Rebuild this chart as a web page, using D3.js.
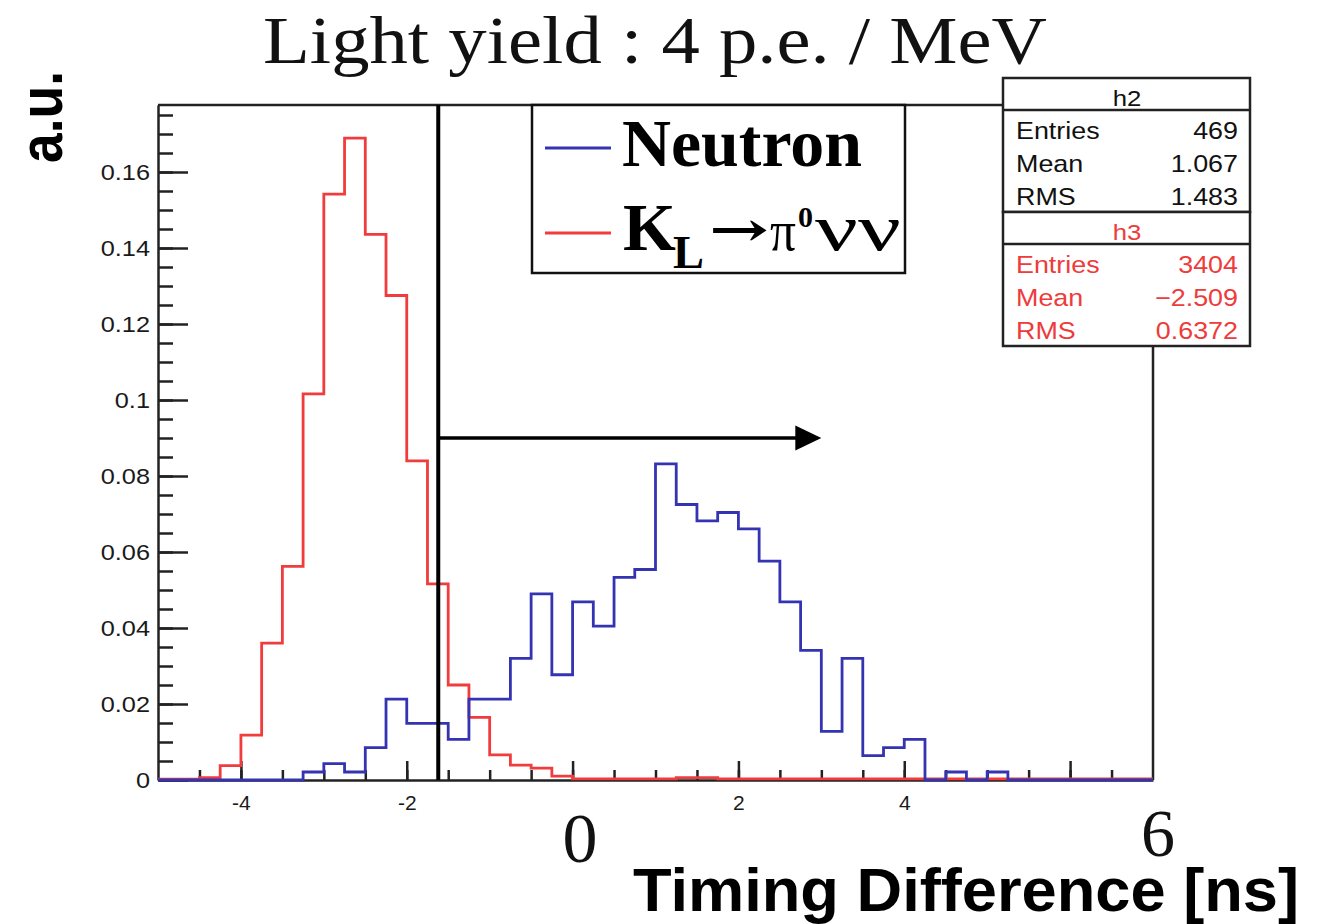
<!DOCTYPE html>
<html>
<head>
<meta charset="utf-8">
<script src="https://cdn.jsdelivr.net/npm/d3@7"></script>
<style>
  body { margin: 0; background: #fff; }
  svg { display: block; }
</style>
</head>
<body>
<div id="chart"></div>
<script>
// histogram binning: 48 bins of 0.25 ns starting at -5 ns
const binStart = -5;
const binWidth = 0.25;

// h2 : Neutron (normalised)
const neutron = [
  0, 0, 0, 0, 0, 0, 0, 0.0021,
  0.0043, 0.0021, 0.0085, 0.0213, 0.0149, 0.0149, 0.0107, 0.0213,
  0.0213, 0.0320, 0.0490, 0.0277, 0.0469, 0.0405, 0.0533, 0.0554,
  0.0832, 0.0725, 0.0682, 0.0704, 0.0661, 0.0576, 0.0469, 0.0341,
  0.0128, 0.0320, 0.0064, 0.0085, 0.0107, 0, 0.0021, 0,
  0.0021, 0, 0, 0, 0, 0, 0, 0
];

// h3 : KL -> pi0 nu nu (normalised)
const klpi0nunu = [
  0.0002, 0.0002, 0.0006, 0.0038, 0.0118, 0.0360, 0.0562, 0.1016,
  0.1542, 0.1689, 0.1436, 0.1275, 0.0840, 0.0516, 0.0250, 0.0165,
  0.0066, 0.0039, 0.0031, 0.0010, 0.0003, 0.0003, 0.0003, 0.0003,
  0.0003, 0.0006, 0.0006, 0.0003, 0.0003, 0.0003, 0.0003, 0.0003,
  0.0003, 0.0003, 0.0003, 0.0003, 0.0003, 0.0003, 0.0003, 0.0003,
  0.0003, 0.0003, 0.0003, 0.0003, 0.0003, 0.0003, 0.0003, 0.0003
];

const xMajorTicks = [-4, -2, 0, 2, 4, 6];
const xTickLabels = ["-4", "-2", "", "2", "4", ""];
const yMajorTicks = [0, 0.02, 0.04, 0.06, 0.08, 0.1, 0.12, 0.14, 0.16];
const yTickLabels = ["0", "0.02", "0.04", "0.06", "0.08", "0.1", "0.12", "0.14", "0.16"];

const statsH2 = [["Entries", "469"], ["Mean", "1.067"], ["RMS", "1.483"]];
const statsH3 = [["Entries", "3404"], ["Mean", "\u22122.509"], ["RMS", "0.6372"]];

// timing cut and arrow
const cutX = -1.62;
const arrowEnd = 3;
const arrowY = 0.09;

const width = 1328;
const height = 924;
const plot = {left: 158, right: 1153, top: 105, bottom: 780};
const blue = "#3434b2";
const red = "#f03c3c";
const sans = "'Liberation Sans', Arial, sans-serif";
const serif = "'Liberation Serif', 'Times New Roman', serif";

const svg = d3.select("#chart")
  .append("svg")
  .attr("width", width)
  .attr("height", height)
  .attr("viewBox", `0 0 ${width} ${height}`);

const xScale = d3.scaleLinear()
  .domain([-5, 7])
  .range([plot.left, plot.right]);

const yScale = d3.scaleLinear()
  .domain([0, (plot.bottom - plot.top) / 3800])
  .range([plot.bottom, plot.top]);

// title
svg.append("text")
  .text("Light yield : 4 p.e. / MeV")
  .attr("x", 263).attr("y", 63)
  .attr("textLength", 784)
  .attr("lengthAdjust", "spacingAndGlyphs")
  .style("font-family", serif)
  .style("font-size", "68px")
  .attr("fill", "#111");

//frame: top line and right side (cut by legend / stats boxes)
svg.append("line")
  .attr("x1", plot.left).attr("x2", 1003)
  .attr("y1", plot.top).attr("y2", plot.top)
  .attr("stroke", "#222").attr("stroke-width", 2.5);
svg.append("line")
  .attr("x1", plot.right).attr("x2", plot.right)
  .attr("y1", 346).attr("y2", plot.bottom)
  .attr("stroke", "#222").attr("stroke-width", 2.5);

// minor ticks first
svg.append("g")
  .attr("class", "x-minor")
  .attr("transform", `translate(0, ${plot.bottom})`)
  .call(d3.axisBottom(xScale)
    .tickValues(d3.range(-4.5, 7, 0.5))
    .tickSizeInner(-10).tickSizeOuter(0)
    .tickFormat(""))
  .call(g => g.select(".domain").remove());

svg.append("g")
  .attr("class", "y-minor")
  .attr("transform", `translate(${plot.left}, 0)`)
  .call(d3.axisLeft(yScale)
    .tickValues(d3.range(0.005, 0.1776, 0.005))
    .tickSizeInner(-15).tickSizeOuter(0)
    .tickFormat(""))
  .call(g => g.select(".domain").remove());

const xAxis = svg.append("g")
  .attr("class", "axis-x")
  .attr("transform", `translate(0, ${plot.bottom})`)
  .call(d3.axisBottom(xScale)
    .tickValues(xMajorTicks)
    .tickFormat((d, i) => xTickLabels[i])
    .tickSizeInner(-19).tickSizeOuter(0)
    .tickPadding(15));

const yAxis = svg.append("g")
  .attr("class", "axis-y")
  .attr("transform", `translate(${plot.left}, 0)`)
  .call(d3.axisLeft(yScale)
    .tickValues(yMajorTicks)
    .tickFormat((d, i) => yTickLabels[i])
    .tickSizeInner(-30).tickSizeOuter(0)
    .tickPadding(7));

svg.selectAll(".x-minor line, .y-minor line, .axis-x line, .axis-y line, .axis-x .domain, .axis-y .domain")
  .attr("stroke", "#222")
  .attr("stroke-width", 2.5);

xAxis.selectAll("text")
  .style("font-family", sans)
  .style("font-size", "21px")
  .attr("fill", "#1a1a1a");

yAxis.selectAll("text")
  .style("font-family", sans)
  .style("font-size", "22px")
  .attr("fill", "#1a1a1a")
  .attr("transform", "scale(1.15, 1)");

// histograms as step outlines
const stepPoints = vals => vals.map((v, i) => [binStart + i * binWidth, v])
  .concat([[binStart + vals.length * binWidth, vals[vals.length - 1]]]);

const stepLine = d3.line()
  .x(d => xScale(d[0]))
  .y(d => yScale(d[1]))
  .curve(d3.curveStepAfter);

svg.append("path")
  .attr("d", stepLine(stepPoints(klpi0nunu)))
  .attr("fill", "none")
  .attr("stroke", red)
  .attr("stroke-width", 2.8);

svg.append("path")
  .attr("d", stepLine(stepPoints(neutron)))
  .attr("fill", "none")
  .attr("stroke", blue)
  .attr("stroke-width", 2.8);

// cut line + arrow
svg.append("line")
  .attr("x1", xScale(cutX)).attr("x2", xScale(cutX))
  .attr("y1", plot.top).attr("y2", plot.bottom)
  .attr("stroke", "#000").attr("stroke-width", 4);

svg.append("line")
  .attr("x1", xScale(cutX)).attr("x2", xScale(arrowEnd) - 20)
  .attr("y1", yScale(arrowY)).attr("y2", yScale(arrowY))
  .attr("stroke", "#000").attr("stroke-width", 3.5);

svg.append("path")
  .attr("d", d3.line()([
    [xScale(arrowEnd), yScale(arrowY)],
    [xScale(arrowEnd) - 26, yScale(arrowY) - 12.5],
    [xScale(arrowEnd) - 26, yScale(arrowY) + 12.5]
  ]) + "Z")
  .attr("fill", "#000");

// legend
const legend = svg.append("g").attr("class", "legend");
legend.append("rect")
  .attr("x", 532).attr("y", plot.top)
  .attr("width", 373).attr("height", 168)
  .attr("fill", "#fff")
  .attr("stroke", "#111").attr("stroke-width", 2.5);

legend.append("line")
  .attr("x1", 545).attr("x2", 611).attr("y1", 148).attr("y2", 148)
  .attr("stroke", blue).attr("stroke-width", 2.8);
legend.append("line")
  .attr("x1", 545).attr("x2", 611).attr("y1", 233).attr("y2", 233)
  .attr("stroke", red).attr("stroke-width", 2.8);

legend.append("text")
  .text("Neutron")
  .attr("x", 622).attr("y", 166)
  .attr("textLength", 240).attr("lengthAdjust", "spacingAndGlyphs")
  .style("font-family", serif).style("font-weight", "bold").style("font-size", "68px");

legend.append("text").text("K")
  .attr("x", 623).attr("y", 250)
  .style("font-family", serif).style("font-weight", "bold").style("font-size", "68px");
legend.append("text").text("L")
  .attr("x", 673).attr("y", 268)
  .attr("textLength", 31).attr("lengthAdjust", "spacingAndGlyphs")
  .style("font-family", serif).style("font-weight", "bold").style("font-size", "46px");
legend.append("text").text("\u2192")
  .attr("x", 709).attr("y", 246)
  .attr("textLength", 60).attr("lengthAdjust", "spacingAndGlyphs")
  .style("font-family", "'DejaVu Serif', serif").style("font-weight", "bold").style("font-size", "48px");
legend.append("text").text("\u03c0")
  .attr("x", 770).attr("y", 250)
  .attr("textLength", 26).attr("lengthAdjust", "spacingAndGlyphs")
  .style("font-family", serif).style("font-size", "56px");
legend.append("text").text("0")
  .attr("x", 798).attr("y", 227)
  .attr("textLength", 15).attr("lengthAdjust", "spacingAndGlyphs")
  .style("font-family", serif).style("font-weight", "bold").style("font-size", "30px");
legend.append("text").text("\u03bd\u03bd")
  .attr("x", 815).attr("y", 250)
  .attr("textLength", 86).attr("lengthAdjust", "spacingAndGlyphs")
  .style("font-family", serif).style("font-size", "66px");

// stats boxes
const drawStats = (title, rows, top, color) => {
  const g = svg.append("g").attr("class", "stats");
  g.append("rect")
    .attr("x", 1003).attr("y", top)
    .attr("width", 247).attr("height", 134)
    .attr("fill", "#fff")
    .attr("stroke", "#222").attr("stroke-width", 2.5);
  g.append("line")
    .attr("x1", 1003).attr("x2", 1250)
    .attr("y1", top + 32).attr("y2", top + 32)
    .attr("stroke", "#222").attr("stroke-width", 2.5);
  g.append("text").text(title)
    .attr("x", 1127 / 1.12).attr("y", top + 28)
    .attr("text-anchor", "middle")
    .attr("transform", "scale(1.12, 1)")
    .attr("fill", color)
    .style("font-family", sans).style("font-size", "23px");
  rows.forEach(([k, v], i) => {
    g.append("text").text(k)
      .attr("x", 1016 / 1.12).attr("y", top + 61 + i * 33)
      .attr("transform", "scale(1.12, 1)")
      .attr("fill", color)
      .style("font-family", sans).style("font-size", "24px");
    g.append("text").text(v)
      .attr("x", 1238 / 1.12).attr("y", top + 61 + i * 33)
      .attr("text-anchor", "end")
      .attr("transform", "scale(1.12, 1)")
      .attr("fill", color)
      .style("font-family", sans).style("font-size", "24px");
  });
};
drawStats("h2", statsH2, 78, "#111");
drawStats("h3", statsH3, 212, "#ee3b3b");

// overlaid labels
svg.append("text").text("a.u.")
  .attr("transform", "translate(62, 163) rotate(-90)")
  .attr("textLength", 92).attr("lengthAdjust", "spacingAndGlyphs")
  .style("font-family", sans)
  .style("font-weight", "bold").style("font-size", "62px");

svg.append("text").text("0")
  .attr("x", 580).attr("y", 862)
  .attr("text-anchor", "middle")
  .style("font-family", serif).style("font-size", "70px").attr("fill", "#111");
svg.append("text").text("6")
  .attr("x", 1158).attr("y", 856)
  .attr("text-anchor", "middle")
  .style("font-family", serif).style("font-size", "68px").attr("fill", "#111");

svg.append("text").text("Timing Difference [ns]")
  .attr("x", 633).attr("y", 911)
  .attr("textLength", 666).attr("lengthAdjust", "spacingAndGlyphs")
  .style("font-family", sans)
  .style("font-weight", "bold").style("font-size", "62px");
</script>
</body>
</html>
